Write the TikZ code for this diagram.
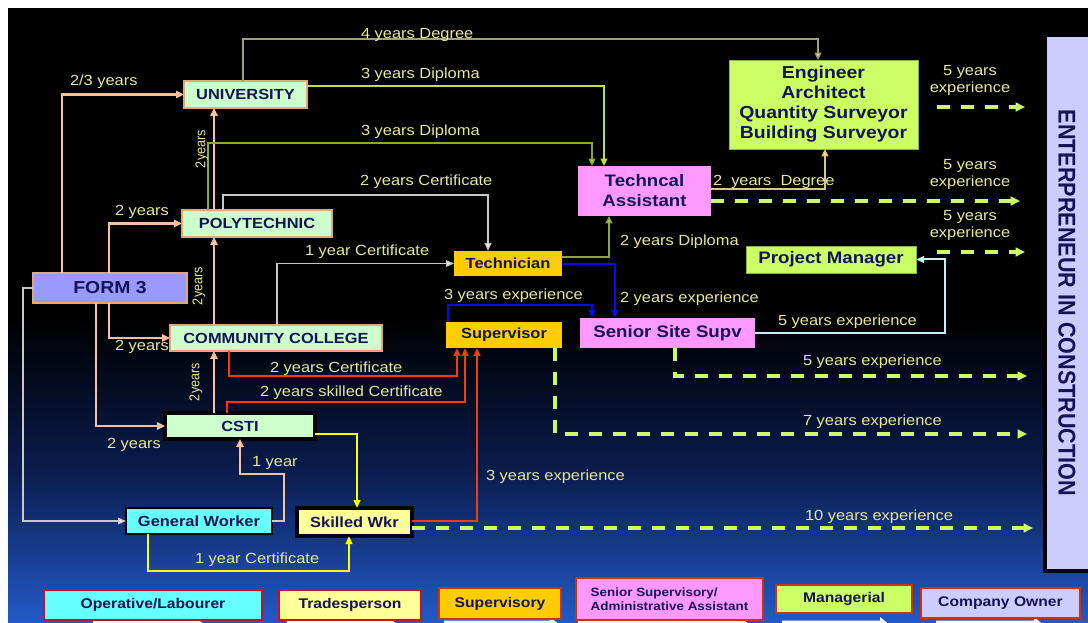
\documentclass[tikz,border=0pt]{standalone}
\usepackage{fontspec}
\usepackage{graphicx}
\setmainfont{Liberation Sans}[FakeStretch=1.12]
\newfontfamily\uprightfam{Liberation Sans}
\usetikzlibrary{arrows.meta}

\definecolor{navy}{RGB}{20,20,85}
\definecolor{labcol}{RGB}{232,232,150}
\definecolor{palegreen}{RGB}{204,255,204}
\definecolor{peachline}{RGB}{249,194,154}
\definecolor{peachborder}{RGB}{228,168,118}
\definecolor{formblue}{RGB}{153,153,255}
\definecolor{cyanfill}{RGB}{102,255,255}
\definecolor{lightyel}{RGB}{255,255,153}
\definecolor{gold}{RGB}{255,204,0}
\definecolor{pinkfill}{RGB}{255,153,255}
\definecolor{limefill}{RGB}{204,255,102}
\definecolor{lavender}{RGB}{204,204,255}
\definecolor{greyline}{RGB}{200,200,200}
\definecolor{degreeline}{RGB}{165,160,110}
\definecolor{diplomaA}{RGB}{200,220,60}
\definecolor{diplomaB}{RGB}{140,170,60}
\definecolor{diplomaC}{RGB}{140,165,70}
\definecolor{khaki}{RGB}{215,200,130}
\definecolor{tipyellow}{RGB}{250,240,170}
\definecolor{blueline}{RGB}{10,10,240}
\definecolor{paleblue}{RGB}{200,240,250}
\definecolor{redline}{RGB}{245,60,10}
\definecolor{yelline}{RGB}{255,255,0}
\definecolor{dashlime}{RGB}{204,250,100}
\definecolor{crimson}{RGB}{200,16,46}
\definecolor{rust}{RGB}{204,51,0}
\definecolor{bgmid}{RGB}{10,28,78}
\definecolor{bgblue}{RGB}{35,90,200}

\begin{document}
\begin{tikzpicture}[x=0.75pt, y=-0.75pt,
  every node/.style={inner sep=0pt, outer sep=0pt},
  % a box given by its left, top, right and bottom edges
  span/.style n args={4}{minimum width={(#3-#1)*0.75pt}, minimum height={(#4-#2)*0.75pt},
    at={({(#1+#3)/2},{(#2+#4)/2})}},
  boxtext/.style={text=navy, font=\bfseries\fontsize{11}{13}\selectfont, align=center},
  edubox/.style={boxtext, fill=palegreen, draw=peachborder, line width=1.1pt},
  formbox/.style={boxtext, fill=formblue, draw=peachborder, line width=1.1pt,
    font=\bfseries\fontsize{13}{15}\selectfont},
  workbox/.style={boxtext, fill=cyanfill, draw=black, line width=1pt},
  skillbox/.style={boxtext, fill=lightyel, draw=black, line width=3pt},
  goldbox/.style={boxtext, fill=gold},
  pinkbox/.style={boxtext, fill=pinkfill, font=\bfseries\fontsize{12.5}{15}\selectfont},
  limebox/.style={boxtext, fill=limefill, draw=limefill!70!black, line width=0.6pt,
    font=\bfseries\fontsize{12.5}{15}\selectfont},
  legbox/.style={boxtext, line width=2.2pt, font=\bfseries\fontsize{10.5}{12}\selectfont},
  lab/.style={text=labcol, anchor=west, yshift=-1.5pt, font=\fontsize{11}{13}\selectfont},
  lablines/.style={text=labcol, align=center, yshift=-2pt, font=\fontsize{11}{13}\selectfont},
  vlab/.style={text=labcol, font=\uprightfam\fontsize{9.5}{11}\selectfont},
  peach/.style={draw=peachline, line width=1.6pt,
    -{Triangle[length=6pt,width=5.5pt]}},
  greyconn/.style={draw=greyline, line width=1pt,
    -{Triangle[length=6pt,width=5pt,fill=white]}},
  thinconn/.style={line width=1.1pt, -{Triangle[length=5.5pt,width=5pt]}},
  blueconn/.style={draw=blueline, line width=1.5pt, -{Triangle[length=6pt,width=5pt]}},
  redconn/.style={draw=redline, line width=1.7pt, -{Triangle[length=6pt,width=5pt]}},
  yelconn/.style={draw=yelline, line width=1.5pt, -{Triangle[length=6pt,width=5pt]}},
  paleconn/.style={draw=paleblue, line width=1.5pt, -{Triangle[length=6pt,width=5pt]}},
  expline/.style={draw=dashlime, line width=2.3pt, dash pattern=on 10pt off 8pt,
    -{Triangle[length=7pt,width=6.5pt]}},
  whitearrow/.style={fill=white}
]
\useasboundingbox (0,0) rectangle (1088,623);

% page margin and slide background
\fill[white] (0,0) rectangle (1088,623);
\fill[black] (8,8) rectangle (1088,623);
\shade[top color=black, bottom color=bgblue, middle color=bgmid] (8,320) rectangle (1088,623);

% ---------- career boxes ----------
\node[edubox, span={184}{81}{307}{108}] (univ) {UNIVERSITY};
\node[edubox, span={182}{210}{332}{237}] (poly) {POLYTECHNIC};
\node[formbox, span={33}{273}{187}{303}] (form3) {FORM 3};
\node[edubox, span={170}{325}{382}{351}] (cc) {COMMUNITY COLLEGE};
\node[edubox, draw=black, line width=3pt, span={165}{413}{315}{439}] (csti) {CSTI};
\node[workbox, span={126}{508}{272}{534}] (gw) {General Worker};
\node[skillbox, span={297}{508}{412}{536}] (sw) {Skilled Wkr};
\node[goldbox, span={454}{251}{562}{276}] (tech) {Technician};
\node[goldbox, span={446}{322}{562}{348}] (sup) {Supervisor};
\node[pinkbox, span={580}{318}{755}{348}] (sss) {Senior Site Supv};
\node[pinkbox, span={578}{166}{711}{216}] (ta) {Techncal\\Assistant};
\node[limebox, font=\bfseries\fontsize{13}{15}\selectfont, span={729}{60}{918}{149}] (eng)
  {Engineer\\Architect\\Quantity Surveyor\\Building Surveyor};
\node[limebox, span={746}{246}{916}{273}] (pm) {Project Manager};

% ---------- entrepreneur column ----------
\node[fill=lavender, draw=black, line width=3pt, span={1044.5}{35.5}{1092}{570.5}] (ent) {};
\node[text=navy] (enttext) at (1067,303)
  {\scalebox{1.12}[1]{\rotatebox{-90}{\uprightfam\bfseries\fontsize{16.2}{18}\selectfont ENTERPRENEUR IN CONSTRUCTION}}};

% ---------- bend points ----------
\coordinate (k62) at (62,94);
\coordinate (k109) at (109,223);
\coordinate (k96) at (96,423);
\coordinate (k214) at (214,300);
\coordinate (gwb1) at (284,474);
\coordinate (gwb2) at (240,474);
\coordinate (g1) at (23,521);
\coordinate (pc1) at (223,195);
\coordinate (pc2) at (488,195);
\coordinate (cc1) at (277,264);
\coordinate (u1) at (243,39);
\coordinate (u2) at (818,39);
\coordinate (d1) at (604,86);
\coordinate (d2) at (208,143);
\coordinate (d3) at (592,143);
\coordinate (t1) at (609,257);
\coordinate (e1) at (825,189);
\coordinate (b1) at (615,264);
\coordinate (b2) at (448,305);
\coordinate (b3) at (592,305);
\coordinate (c1) at (945,333);
\coordinate (r1) at (229,376);
\coordinate (r2) at (457,376);
\coordinate (r3) at (227,402);
\coordinate (r4) at (465,402);
\coordinate (r5) at (477,521);
\coordinate (y1) at (357,434);
\coordinate (y2) at (148,571);
\coordinate (y3) at (349,571);
\coordinate (q1) at (675,376);
\coordinate (q2) at (1027,376);
\coordinate (q3) at (555,434);
\coordinate (q4) at (1027,434);
\coordinate (q5) at (1033,528);
\coordinate (q6) at (1020,201);
\coordinate (q7) at (1025,107);
\coordinate (q8) at (1025,252);

% ---------- peach routes from FORM 3 ----------
\draw[peach] (form3.north -| k62) |- (univ.west);
\draw[peach] (form3.north -| k109) |- (poly.west);
\draw[peach] (form3.south -| k109) |- (cc.west);
\draw[peach] (form3.south -| k96) |- (csti.west);
\draw[peach] (poly.north -| k214) -- (univ.south -| k214);
\draw[peach] (cc.north -| k214) -- (poly.south -| k214);
\draw[peach] (csti.north -| k214) -- (cc.south -| k214);
\draw[peach] (gw.east) -| (gwb1) -| (csti.south -| gwb2);

% ---------- certificate routes ----------
\draw[greyconn] (form3.west) -| (g1) -- (gw.west);
\draw[greyconn] (poly.north -| pc1) -- (pc1) -- (pc2) -- (tech.north -| pc2);
\draw[greyconn] (cc.north -| cc1) |- (tech.west);
\draw[thinconn, draw=degreeline, -{Triangle[length=5.5pt,width=5pt,fill=tipyellow]}]
  (univ.north -| u1) -- (u1) -- (u2) -- (eng.north -| u2);
\draw[thinconn, draw=diplomaA] (univ.east |- d1) -- (d1) -- (ta.north -| d1);
\draw[thinconn, draw=diplomaB, -{Triangle[length=5.5pt,width=5pt,fill=diplomaA]}]
  (poly.north -| d2) -- (d2) -- (d3) -- (ta.north -| d3);
\draw[thinconn, draw=diplomaC, -{Triangle[length=5.5pt,width=5pt,fill=diplomaA]}]
  (tech.east |- t1) -- (t1) -- (ta.south -| t1);
\draw[thinconn, draw=khaki, -{Triangle[length=5.5pt,width=5pt,fill=tipyellow]}]
  (ta.east |- e1) -- (e1) -- (eng.south -| e1);

% ---------- experience routes ----------
\draw[blueconn] (tech.east |- b1) -- (b1) -- (sss.north -| b1);
\draw[blueconn] (sup.north -| b2) -- (b2) -- (b3) -- (sss.north -| b3);
\draw[paleconn] (sss.east |- c1) -- (c1) |- (pm.east);
\draw[redconn] (cc.south -| r1) -- (r1) -- (r2) -- (sup.south -| r2);
\draw[redconn] (csti.north -| r3) -- (r3) -- (r4) -- (sup.south -| r4);
\draw[redconn] (sw.east |- r5) -- (r5) -- (sup.south -| r5);
\draw[yelconn] (csti.east |- y1) -- (y1) -- (sw.north -| y1);
\draw[yelconn] (gw.south -| y2) -- (y2) -- (y3) -- (sw.south -| y3);

% ---------- routes into entrepreneurship ----------
\draw[expline, shorten <=14pt] (eng.east |- q7) -- (q7);
\draw[expline] (ta.east |- q6) -- (q6);
\draw[expline, shorten <=15.5pt] (pm.east |- q8) -- (q8);
\draw[expline] (sss.south -| q1) -- (q1) -- (q2);
\draw[expline] (sup.south -| q3) -- (q3) -- (q4);
\draw[expline] (sw.east |- q5) -- (q5);

% ---------- route labels ----------
\node[lab] (l01) at (70,80) {2/3 years};
\node[lab] (l02) at (115,210) {2 years};
\node[lab] (l03) at (115,345) {2 years};
\node[lab] (l04) at (107,443) {2 years};
\node[vlab] (l05) at (202,149) {\scalebox{1.12}[1]{\rotatebox{90}{2years}}};
\node[vlab] (l06) at (199,286) {\scalebox{1.12}[1]{\rotatebox{90}{2years}}};
\node[vlab] (l07) at (196,382) {\scalebox{1.12}[1]{\rotatebox{90}{2years}}};
\node[lab] (l08) at (252,461) {1 year};
\node[lab] (l09) at (195,558) {1 year Certificate};
\node[lab] (l10) at (361,33) {4 years Degree};
\node[lab] (l11) at (361,73) {3 years Diploma};
\node[lab] (l12) at (361,130) {3 years Diploma};
\node[lab] (l13) at (360,180) {2 years Certificate};
\node[lab] (l14) at (305,250) {1 year Certificate};
\node[lab] (l15) at (270,367) {2 years Certificate};
\node[lab] (l16) at (260,391) {2 years skilled Certificate};
\node[lab] (l17) at (444,294) {3 years experience};
\node[lab] (l18) at (620,240) {2 years Diploma};
\node[lab] (l19) at (620,297) {2 years experience};
\node[lab] (l20) at (713,180) {2~ years~ Degree};
\node[lab] (l21) at (778,320) {5 years experience};
\node[lab] (l22) at (803,360) {5 years experience};
\node[lab] (l23) at (803,420) {7 years experience};
\node[lab] (l24) at (486,475) {3 years experience};
\node[lab] (l25) at (805,515) {10 years experience};
\node[lablines] (l26) at (970,78) {5 years\\experience};
\node[lablines] (l27) at (970,172) {5 years\\experience};
\node[lablines] (l28) at (970,223) {5 years\\experience};

% ---------- legend ----------
\begin{scope}
\clip (0,0) rectangle (1088,623);
\foreach \xa/\xb in {93/207, 287/400, 444/562, 578/752, 782/892, 936/1046}{
  \fill[whitearrow] (\xa,620.5) -- (\xb-12,620.5) -- (\xb-12,617) -- (\xb,627) -- (\xa,627) -- cycle;
}
\end{scope}
\node[legbox, fill=cyanfill, draw=crimson, span={44}{590}{262}{620}] (leg1) {Operative/Labourer};
\node[legbox, fill=lightyel, draw=crimson, span={279}{590}{421}{620}] (leg2) {Tradesperson};
\node[legbox, fill=gold, draw=rust, span={439}{588}{561}{619}] (leg3) {Supervisory};
\node[legbox, fill=pinkfill, draw=rust, align=left, font=\bfseries\fontsize{9}{10.5}\selectfont,
  span={576}{578}{763}{620}] (leg4) {Senior Supervisory/\\Administrative Assistant};
\node[legbox, fill=limefill, draw=rust, span={776}{585}{912}{613}] (leg5) {Managerial};
\node[legbox, fill=lavender, draw=rust, span={921}{588}{1080}{618}] (leg6) {Company Owner};
\end{tikzpicture}
\end{document}
